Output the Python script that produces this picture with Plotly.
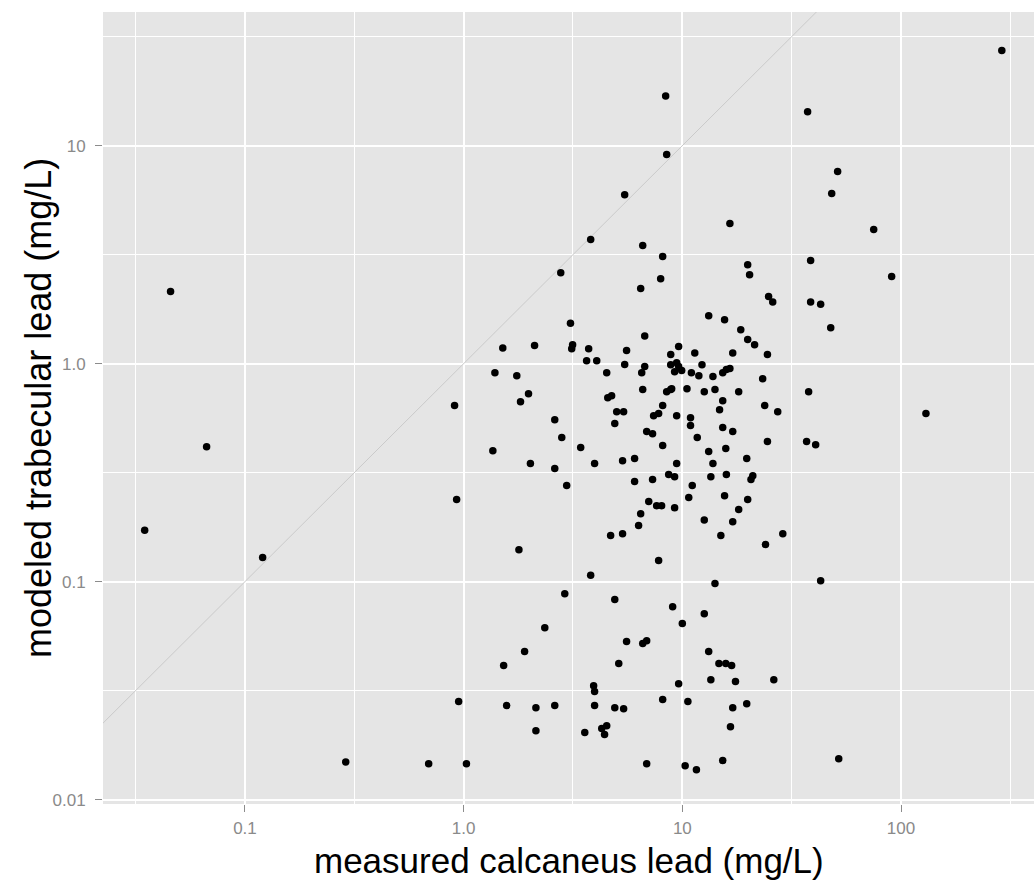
import plotly.graph_objects as go

# measured calcaneus lead (mg/L)
calcaneus = [
    0.0348, 0.0457, 0.0668, 0.1205, 0.289, 0.692, 1.03, 0.949, 0.929, 0.909,
    1.524, 1.90, 1.573, 2.14, 2.61, 2.14, 3.93, 3.97, 3.97, 4.91,
    5.39, 5.12, 3.58, 4.28, 4.51, 4.41, 6.87, 13.2, 14.7, 15.8,
    16.8, 9.62, 13.5, 17.5, 26.2, 8.13, 10.6, 17.0, 19.7, 16.6,
    10.3, 11.6, 15.3, 51.9, 2.61, 2.96, 3.97, 5.33, 6.05, 9.42,
    13.8, 19.7, 6.05, 7.31, 8.66, 9.22, 11.1, 13.5, 15.9, 10.7,
    15.6, 19.9, 7.02, 7.63, 8.04, 9.22, 6.45, 18.1, 12.6, 17.0,
    6.31, 4.70, 5.33, 15.0, 7.79, 3.81, 14.1, 2.90, 4.91, 9.03,
    12.6, 10.0, 5.56, 6.59, 6.87, 1.36, 2.02, 1.79, 2.35, 1.51,
    2.11, 1.39, 1.75, 1.98, 1.82, 8.13, 2.78, 7.96, 6.45, 19.9,
    20.3, 3.08, 13.2, 15.6, 18.5, 19.9, 6.73, 3.15, 3.12, 3.73,
    5.56, 9.62, 8.85, 11.4, 17.0, 3.65, 4.06, 5.45, 6.73, 6.52,
    8.85, 9.42, 9.62, 9.22, 9.93, 12.3, 11.0, 11.9, 13.8, 15.3,
    15.9, 16.5, 4.51, 6.59, 8.48, 8.85, 8.94, 10.5, 12.6, 14.1,
    18.1, 4.56, 4.75, 15.3, 14.8, 8.13, 5.01, 5.39, 7.39, 7.79,
    9.42, 10.9, 10.9, 4.91, 2.61, 2.81, 6.87, 7.31, 11.7, 15.3,
    17.0, 3.43, 8.13, 13.2, 15.8, 38.6, 90.6, 24.8, 25.9, 38.6,
    42.9, 47.7, 21.4, 24.5, 23.3, 37.8, 23.8, 27.3, 130.0, 24.5,
    37.0, 40.7, 21.0, 20.6, 28.8, 24.0, 42.9, 8.39, 8.48, 37.4,
    289.0, 51.3, 48.2, 5.45, 16.5, 75.0, 3.81, 6.59,
]

# modeled trabecular lead (mg/L)
trabecular = [
    0.172, 2.14, 0.416, 0.129, 0.0149, 0.0146, 0.0146, 0.0282, 0.238, 0.642,
    0.0412, 0.0478, 0.0270, 0.0264, 0.0270, 0.0207, 0.0333, 0.0313, 0.0270, 0.0264,
    0.0261, 0.0421, 0.0203, 0.0212, 0.0218, 0.0199, 0.0146, 0.0478, 0.0421, 0.0421,
    0.0412, 0.0340, 0.0355, 0.0348, 0.0355, 0.0288, 0.0282, 0.0264, 0.0275, 0.0216,
    0.0143, 0.0137, 0.0151, 0.0154, 0.330, 0.276, 0.348, 0.359, 0.367, 0.348,
    0.348, 0.367, 0.288, 0.294, 0.310, 0.303, 0.276, 0.303, 0.310, 0.243,
    0.248, 0.238, 0.233, 0.223, 0.223, 0.218, 0.205, 0.214, 0.192, 0.188,
    0.181, 0.163, 0.166, 0.163, 0.125, 0.107, 0.098, 0.0881, 0.0827, 0.0768,
    0.0713, 0.0642, 0.0531, 0.0520, 0.0536, 0.399, 0.348, 0.140, 0.0615, 1.18,
    1.21, 0.909, 0.881, 0.728, 0.669, 3.10, 2.61, 2.45, 2.21, 2.84,
    2.56, 1.53, 1.66, 1.59, 1.43, 1.29, 1.34, 1.22, 1.17, 1.17,
    1.15, 1.20, 1.10, 1.12, 1.12, 1.03, 1.03, 0.991, 0.969, 0.909,
    0.989, 1.01, 0.969, 0.919, 0.929, 0.989, 0.909, 0.881, 0.872, 0.909,
    0.939, 0.949, 0.909, 0.760, 0.744, 0.760, 0.768, 0.768, 0.744, 0.760,
    0.744, 0.698, 0.713, 0.676, 0.615, 0.642, 0.602, 0.602, 0.577, 0.590,
    0.577, 0.565, 0.520, 0.531, 0.553, 0.458, 0.488, 0.477, 0.458, 0.509,
    0.488, 0.412, 0.421, 0.395, 0.408, 2.97, 2.51, 2.03, 1.92, 1.92,
    1.87, 1.46, 1.22, 1.10, 0.853, 0.744, 0.642, 0.602, 0.590, 0.439,
    0.439, 0.425, 0.306, 0.294, 0.166, 0.148, 0.101, 16.9, 9.10, 14.3,
    27.3, 7.60, 6.03, 5.96, 4.39, 4.12, 3.71, 3.48,
]

x_ticks = [0.1, 1.0, 10, 100]
x_tick_labels = ["0.1", "1.0", "10", "100"]
y_ticks = [0.01, 0.1, 1.0, 10]
y_tick_labels = ["0.01", "0.1", "1.0", "10"]
x_minor = [10 ** -1.5, 10 ** -0.5, 10 ** 0.5, 10 ** 1.5, 10 ** 2.5]
y_minor = [10 ** -1.5, 10 ** -0.5, 10 ** 0.5, 10 ** 1.5]
identity_line = [0.001, 10000]
x_title = "measured calcaneus lead (mg/L)"
y_title = "modeled trabecular lead (mg/L)"

FONT = "Liberation Sans, Arial, sans-serif"

fig = go.Figure()
fig.add_trace(go.Scatter(
    x=identity_line, y=identity_line, mode="lines",
    line=dict(color="#CACACA", width=1), hoverinfo="skip", showlegend=False,
))
fig.add_trace(go.Scatter(
    x=calcaneus, y=trabecular, mode="markers",
    marker=dict(color="black", size=7.5, line=dict(width=0)),
    showlegend=False,
))

axis_common = dict(
    type="log",
    showgrid=True, gridcolor="white", gridwidth=1.6,
    ticks="outside", ticklen=7, tickwidth=1, tickcolor="#8C8C8C",
    tickfont=dict(family=FONT, size=17, color="#8A8A8A"),
    showline=False, zeroline=False, automargin=False,
)

fig.update_layout(
    width=1034, height=880,
    margin=dict(l=103, r=0, t=12, b=76),
    paper_bgcolor="white", plot_bgcolor="#E5E5E5",
    xaxis=dict(
        **axis_common,
        range=[-1.649, 2.608],
        tickmode="array", tickvals=x_ticks, ticktext=x_tick_labels,
        ticklabelstandoff=2,
        minor=dict(tickmode="array", tickvals=x_minor, showgrid=True,
                   gridcolor="white", gridwidth=0.8, ticks=""),
    ),
    yaxis=dict(
        **axis_common,
        range=[-2.02, 1.613],
        tickmode="array", tickvals=y_ticks, ticktext=y_tick_labels,
        ticklabelstandoff=6,
        minor=dict(tickmode="array", tickvals=y_minor, showgrid=True,
                   gridcolor="white", gridwidth=0.8, ticks=""),
    ),
    annotations=[
        dict(text=x_title, xref="paper", yref="paper", x=0.5, y=-0.0445,
             xanchor="center", yanchor="top", showarrow=False,
             font=dict(family=FONT, size=35, color="black")),
        dict(text=y_title, xref="paper", yref="paper", x=0, y=0.5,
             xshift=-65, xanchor="center", yanchor="middle", textangle=-90,
             showarrow=False, font=dict(family=FONT, size=36, color="black")),
    ],
)

fig.write_html("out.html")
